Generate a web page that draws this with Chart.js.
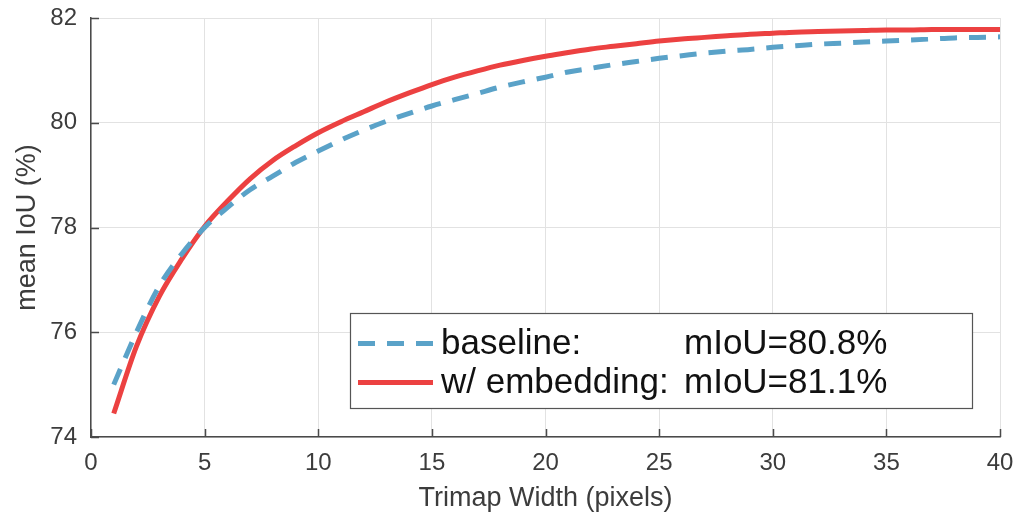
<!DOCTYPE html>
<html lang="en">
<head>
  <meta charset="UTF-8" />
  <title>Trimap width vs mean IoU</title>
  <script src="https://cdn.jsdelivr.net/npm/chart.js"></script>
  <style>
    html, body { margin: 0; padding: 0; background: #fff; }
    #wrap { width: 1016px; height: 518px; }
  </style>
</head>
<body>
  <div id="wrap">
    <canvas id="iouChart" width="1016" height="518"></canvas>
  </div>

  <script>
    // Trimap width in pixels
    const trimapWidths = [1, 2, 3, 4, 5, 6, 7, 8, 9, 10,
                          11, 12, 13, 14, 15, 16, 17, 18, 19, 20,
                          21, 22, 23, 24, 25, 26, 27, 28, 29, 30,
                          31, 32, 33, 34, 35, 36, 37, 38, 39, 40];

    // mean IoU (%) per trimap width
    const baselineIoU = [75.00, 76.00, 76.88, 77.50, 78.00, 78.38, 78.72, 78.98, 79.24, 79.46,
                         79.67, 79.86, 80.03, 80.18, 80.32, 80.44, 80.56, 80.68, 80.78, 80.87,
                         80.97, 81.04, 81.11, 81.17, 81.23, 81.28, 81.33, 81.37, 81.40, 81.44,
                         81.47, 81.50, 81.52, 81.54, 81.56, 81.58, 81.60, 81.62, 81.63, 81.64];
    const embeddingIoU = [74.45, 75.73, 76.68, 77.40, 78.02, 78.50, 78.93, 79.28, 79.56, 79.81,
                          80.02, 80.21, 80.40, 80.57, 80.73, 80.87, 80.99, 81.10, 81.19, 81.27,
                          81.34, 81.41, 81.46, 81.51, 81.56, 81.60, 81.63, 81.66, 81.69, 81.71,
                          81.73, 81.74, 81.75, 81.76, 81.77, 81.77, 81.78, 81.78, 81.78, 81.78];

    // legend text: name, then overall score
    const seriesNames = ['baseline:', 'w/ embedding:'];
    const seriesScores = ['mIoU=80.8%', 'mIoU=81.1%'];

    const xTicks = [0, 5, 10, 15, 20, 25, 30, 35, 40];
    const yTicks = [74, 76, 78, 80, 82];

    const BLUE = '#5aa2c8';
    const RED = '#ec4141';
    const AXIS = '#4a4a4a';
    const TEXT = '#3c3c3c';
    const FONT = "'Liberation Sans', Arial, Helvetica, sans-serif";

    const toPoints = vals => vals.map((v, i) => ({ x: trimapWidths[i], y: v }));

    // small inward tick marks along the left and bottom axes
    const innerTicks = {
      id: 'innerTicks',
      afterDraw(chart) {
        const { ctx, chartArea, scales } = chart;
        ctx.save();
        ctx.strokeStyle = AXIS;
        ctx.lineWidth = 1.5;
        ctx.beginPath();
        xTicks.forEach(v => {
          const px = Math.round(scales.x.getPixelForValue(v)) + 0.5;
          ctx.moveTo(px, chartArea.bottom);
          ctx.lineTo(px, chartArea.bottom - 8);
        });
        yTicks.forEach(v => {
          const py = Math.round(scales.y.getPixelForValue(v)) + 0.5;
          ctx.moveTo(chartArea.left, py);
          ctx.lineTo(chartArea.left + 8, py);
        });
        ctx.stroke();
        ctx.restore();
      }
    };

    // boxed legend sitting inside the plot area
    const boxLegend = {
      id: 'boxLegend',
      afterDraw(chart) {
        const { ctx } = chart;
        const box = { x: 350.5, y: 313.5, w: 622, h: 95 };
        ctx.save();
        ctx.fillStyle = '#fff';
        ctx.fillRect(box.x, box.y, box.w, box.h);
        ctx.strokeStyle = '#555';
        ctx.lineWidth = 1.2;
        ctx.strokeRect(box.x, box.y, box.w, box.h);

        const rows = [box.y + 30, box.y + 69];
        const colors = [BLUE, RED];
        const dashes = [[17, 12], []];
        rows.forEach((y, i) => {
          ctx.beginPath();
          ctx.setLineDash(dashes[i]);
          ctx.strokeStyle = colors[i];
          ctx.lineWidth = 5;
          ctx.moveTo(358, y);
          ctx.lineTo(433, y);
          ctx.stroke();
          ctx.setLineDash([]);

          ctx.fillStyle = '#111';
          ctx.font = '35px ' + FONT;
          ctx.textBaseline = 'middle';
          ctx.textAlign = 'left';
          ctx.fillText(seriesNames[i], 441, y + 1);
          ctx.fillText(seriesScores[i], 684, y + 1);
        });
        ctx.restore();
      }
    };

    new Chart(document.getElementById('iouChart'), {
      type: 'line',
      data: {
        datasets: [
          {
            label: seriesNames[0] + ' ' + seriesScores[0],
            data: toPoints(baselineIoU),
            borderColor: BLUE,
            borderWidth: 5,
            borderDash: [17, 12],
            pointRadius: 0,
            cubicInterpolationMode: 'monotone',
            fill: false
          },
          {
            label: seriesNames[1] + ' ' + seriesScores[1],
            data: toPoints(embeddingIoU),
            borderColor: RED,
            borderWidth: 5,
            pointRadius: 0,
            cubicInterpolationMode: 'monotone',
            fill: false
          }
        ]
      },
      options: {
        responsive: false,
        animation: false,
        layout: { padding: { top: 18, right: 16, left: 0, bottom: 0 } },
        plugins: {
          legend: { display: false },
          tooltip: { enabled: false }
        },
        scales: {
          x: {
            type: 'linear',
            min: 0,
            max: 40,
            afterFit: s => { s.height = 81; s.paddingLeft = 0; s.paddingRight = 0; },
            afterBuildTicks: s => { s.ticks = xTicks.map(v => ({ value: v })); },
            grid: { color: '#e2e2e2', lineWidth: 1, drawTicks: false },
            border: { color: AXIS, width: 1.5 },
            ticks: {
              padding: 12,
              color: TEXT,
              font: { family: FONT, size: 24 },
              maxRotation: 0
            },
            title: {
              display: true,
              text: 'Trimap Width (pixels)',
              color: TEXT,
              font: { family: FONT, size: 27 },
              padding: { top: 0, bottom: 3 }
            }
          },
          y: {
            min: 74,
            max: 82,
            afterFit: s => { s.width = 91; s.paddingTop = 0; s.paddingBottom = 0; },
            afterBuildTicks: s => { s.ticks = yTicks.map(v => ({ value: v })); },
            grid: { color: '#e2e2e2', lineWidth: 1, drawTicks: false },
            border: { color: AXIS, width: 1.5 },
            ticks: {
              padding: 14,
              color: TEXT,
              font: { family: FONT, size: 24 }
            },
            title: {
              display: true,
              text: 'mean IoU (%)',
              color: TEXT,
              font: { family: FONT, size: 27 },
              padding: { top: 11, bottom: 0 }
            }
          }
        }
      },
      plugins: [innerTicks, boxLegend]
    });
  </script>
</body>
</html>
